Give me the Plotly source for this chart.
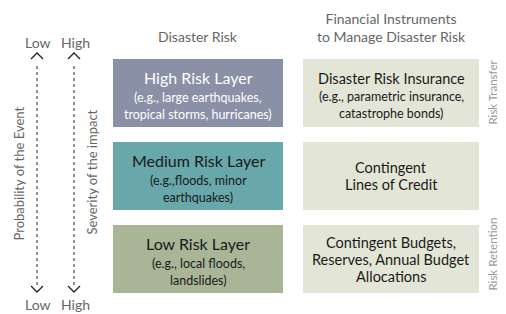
import plotly.graph_objects as go

# ---- data ----
column_headers = ["Disaster Risk", "Financial Instruments<br>to Manage Disaster Risk"]
layer_titles = ["High Risk Layer", "Medium Risk Layer", "Low Risk Layer"]
layer_examples = [
    ["(e.g., large earthquakes,", "tropical storms, hurricanes)"],
    ["(e.g.,floods, minor", "earthquakes)"],
    ["(e.g., local floods,", "landslides)"],
]
instrument_titles = [
    ["Disaster Risk Insurance"],
    ["Contingent", "Lines of Credit"],
    ["Contingent Budgets,", "Reserves, Annual Budget", "Allocations"],
]
instrument_examples = [
    ["(e.g., parametric insurance,", "catastrophe bonds)"],
    [],
    [],
]
strategies = ["Risk Transfer", "Risk Retention"]
strategy_rows = [0, 2]  # row whose bottom the label ends at
axis_labels = ["Probability of the Event", "Severity of the impact"]
axis_top = ["Low", "High"]
axis_bottom = ["Low", "High"]

# ---- style ----
FONT = "Lato, 'Open Sans', sans-serif"
layer_colors = ["#8a90a6", "#68a8ab", "#a8b596"]
layer_text_colors = ["#ffffff", "#1a1a1a", "#1a1a1a"]
instr_color = "#e3e6d6"
W, H = 506, 314
row_tops = [59, 142, 225]
row_h = 68
left_x = (113, 283)
right_x = (303, 479)
axis_x = [37, 74]

fig = go.Figure()
shapes, ann = [], []

def text(x, y, s, size, color="#1a1a1a", angle=0, xa="center", ya="middle"):
    ann.append(dict(x=x, y=y, xref="x", yref="y", text=s, showarrow=False,
                    textangle=angle, xanchor=xa, yanchor=ya,
                    font=dict(family=FONT, size=size, color=color)))

for i in range(3):
    y0 = row_tops[i]
    y1 = y0 + row_h
    cy = (y0 + y1) / 2
    shapes.append(dict(type="rect", xref="x", yref="y", x0=left_x[0], x1=left_x[1],
                       y0=y0, y1=y1, fillcolor=layer_colors[i], line=dict(width=0), layer="below"))
    shapes.append(dict(type="rect", xref="x", yref="y", x0=right_x[0], x1=right_x[1],
                       y0=y0, y1=y1, fillcolor=instr_color, line=dict(width=0), layer="below"))
    lx = (left_x[0] + left_x[1]) / 2
    tc = layer_text_colors[i]
    text(lx, cy - 16, layer_titles[i], 16, tc)
    for k, s in enumerate(layer_examples[i]):
        text(lx, cy + 4.5 + 16.5 * k, s, 12.5, tc)
    rx = (right_x[0] + right_x[1]) / 2
    lines = [(s, 14.5) for s in instrument_titles[i]] + [(s, 12.5) for s in instrument_examples[i]]
    n = len(lines)
    if instrument_examples[i]:
        offs = [-15, 3, 20]
    else:
        offs = [(k - (n - 1) / 2) * 17 for k in range(n)]
    for (s, sz), o in zip(lines, offs):
        text(rx, cy + o, s, sz)

# headers
text((left_x[0] + left_x[1]) / 2, 36, column_headers[0], 14, "#666666")
text((right_x[0] + right_x[1]) / 2, 27, column_headers[1], 14, "#666666")

# strategy labels
for s, r in zip(strategies, strategy_rows):
    text(492, row_tops[r] + row_h, s, 11.5, "#9a9a9a", angle=-90, ya="bottom")

# axes: arrows and dotted lines
for j, x in enumerate(axis_x):
    shapes.append(dict(type="line", xref="x", yref="y", x0=x, x1=x, y0=66, y1=288,
                       line=dict(color="#222222", width=1, dash="dot")))
    shapes.append(dict(type="path", xref="x", yref="y",
                       path=f"M {x-6},{59} L {x},{53} L {x+6},{59}",
                       line=dict(color="#222222", width=1.3)))
    shapes.append(dict(type="path", xref="x", yref="y",
                       path=f"M {x-6},{286} L {x},{292} L {x+6},{286}",
                       line=dict(color="#222222", width=1.3)))
    text(x + 1, 42, axis_top[j], 14, "#666666")
    text(x + 1, 304, axis_bottom[j], 14, "#666666")

text(18, 173.5, axis_labels[0], 13, "#666666", angle=-90)
text(91, 172.5, axis_labels[1], 13, "#666666", angle=-90)

fig.update_layout(
    width=W, height=H, margin=dict(l=0, r=0, t=0, b=0),
    paper_bgcolor="#ffffff", plot_bgcolor="#ffffff",
    xaxis=dict(range=[0, W], visible=False, fixedrange=True),
    yaxis=dict(range=[H, 0], visible=False, fixedrange=True),
    shapes=shapes, annotations=ann, showlegend=False,
)
fig.write_html("out.html", config={"displayModeBar": False},
               post_script="document.body.style.margin='0';document.body.style.overflow='hidden';")
